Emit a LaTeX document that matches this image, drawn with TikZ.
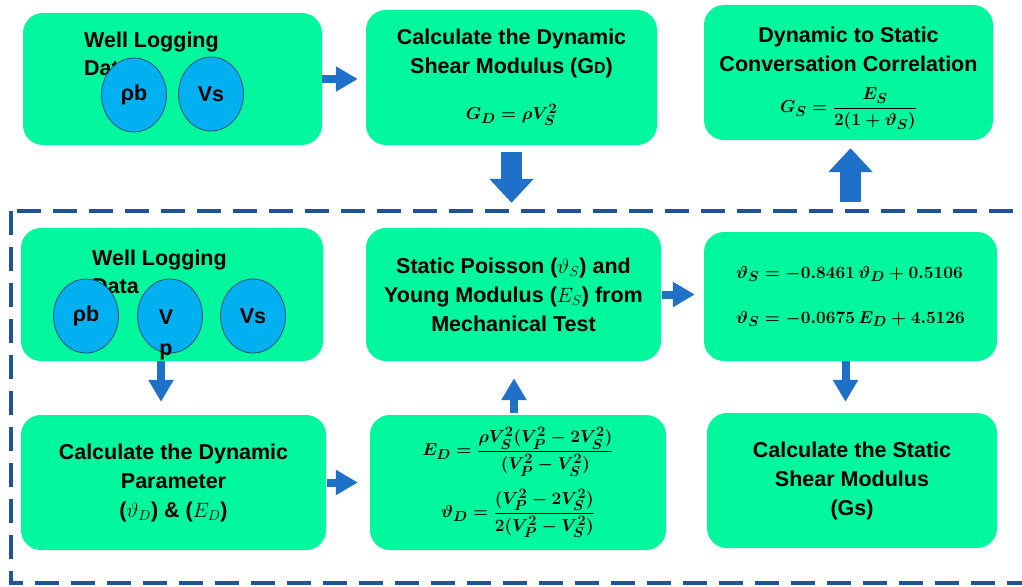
\documentclass[tikz,border=0pt]{standalone}
\usepackage{amsmath}
\usepackage[no-math]{fontspec}
\setmainfont{Liberation Sans}
\usepackage{xcolor}
\usepackage{tikz}
\usetikzlibrary{shapes.geometric}
\usetikzlibrary{arrows.meta}

\definecolor{boxgreen}{RGB}{0,247,158}
\definecolor{bubbleblue}{RGB}{0,176,240}
\definecolor{bubbleedge}{RGB}{31,78,121}
\definecolor{arrowblue}{RGB}{30,112,200}
\definecolor{dashblue}{RGB}{30,84,150}

% bold equation at the size of the boxes' formulas
\newcommand{\beq}[1]{{\fontsize{19}{23}\selectfont\boldmath$#1$}}

\begin{document}
\begin{tikzpicture}[x=1pt,y=-1pt,
  greenbox/.style={fill=boxgreen,rounded corners=20pt,align=center,inner sep=0pt,
    font=\fontsize{21.5}{29}\selectfont\bfseries},
  bubble/.style={ellipse,draw=bubbleedge,line width=0.8pt,fill=bubbleblue,
    minimum width=65pt,minimum height=74pt,inner sep=0pt,
    font=\fontsize{21.5}{29}\selectfont\bfseries},
  lbl/.style={inner sep=0pt,align=left,font=\fontsize{21.5}{28}\selectfont\bfseries},
  thinarrow/.style={line width=8pt,draw=arrowblue,-{Triangle[width=24pt,length=22pt]}},
  fatarrow/.style={line width=21pt,draw=arrowblue,-{Triangle[width=43pt,length=24pt]}},
  dashframe/.style={draw=dashblue,line width=3.5pt,dash pattern=on 24pt off 12pt}]
\clip (0,0) rectangle (1022,586);

% top row
\node[greenbox,minimum width=299pt,minimum height=132pt] (logA) at (172.5,79) {};
\node[greenbox,minimum width=291pt,minimum height=135pt] (shearD) at (511.5,77.5)
  {Calculate the Dynamic\\Shear Modulus (G{\fontsize{16}{16}\selectfont D})\\[17pt]
   \beq{G_D=\rho V_S^2}};
\node[greenbox,minimum width=289pt,minimum height=135pt] (convert) at (848.5,72.5) {};
\node[lbl,align=center,font=\fontsize{21.5}{29}\selectfont\bfseries,yshift=-6pt]
  (convertText) at (convert.center)
  {Dynamic to Static\\Conversation Correlation\\[12pt]
   \beq{G_S=\dfrac{E_S}{2(1+\vartheta_S)}}};

% lower part
\draw[dashframe] (11,211) rectangle (1040,583);
\node[greenbox,minimum width=302pt,minimum height=133pt] (logB) at (172,294.5) {};
\node[greenbox,minimum width=295pt,minimum height=133pt] (mech) at (513.5,294.5)
  {Static Poisson ($\vartheta_S$) and\\Young Modulus ($E_S$) from\\Mechanical Test};
\node[greenbox,minimum width=293pt,minimum height=129pt,align=left] (corr) at (850.5,296.5)
  {\beq{\vartheta_S=-0.8461\,\vartheta_D+0.5106}\\[16pt]
   \beq{\vartheta_S=-0.0675\,E_D+4.5126}};
\node[greenbox,minimum width=305pt,minimum height=135pt] (dynpar) at (173.5,482.5)
  {Calculate the Dynamic\\Parameter\\($\vartheta_D$) \& ($E_D$)};
\node[greenbox,minimum width=296pt,minimum height=135pt] (formulas) at (518,482.5)
  {\beq{E_D=\dfrac{\rho V_S^2(V_P^2-2V_S^2)}{(V_P^2-V_S^2)}}\\[12pt]
   \beq{\vartheta_D=\dfrac{(V_P^2-2V_S^2)}{2(V_P^2-V_S^2)}}};
\node[greenbox,minimum width=290pt,minimum height=135pt] (shearS) at (852,480.5)
  {Calculate the Static\\Shear Modulus\\(Gs)};

% well logging data
\node[lbl,anchor=north west] (dataA) at (84,32) {Well Logging\\Data};
\node[bubble] (rhoA) at (134,95) {ρb};
\node[bubble] (vsA) at (211,94) {Vs};
\node[lbl,anchor=north west] (dataB) at (92,250) {Well Logging\\Data};
\node[bubble] (rhoB) at (86,316) {ρb};
\node[bubble] (vpB) at (170,316) {};
\node[lbl,align=center,anchor=north,font=\fontsize{21.5}{31}\selectfont\bfseries]
  (vptext) at (166,310) {V\\p};
\node[bubble] (vsB) at (253,316) {Vs};

% arrows
\draw[thinarrow,shorten >=8pt] (logA.east) -- (logA.east -| shearD.west);
\draw[fatarrow,shorten <=7pt,shorten >=25pt] (shearD.south) -- (shearD.south |- mech.north);
\draw[fatarrow,shorten <=30pt,shorten >=8pt] (corr.north) -- (corr.north |- convert.south);
\draw[thinarrow,shorten >=13pt] ([xshift=-11pt]logB.south) -- ([xshift=-11pt]logB.south |- dynpar.north);
\draw[thinarrow,shorten <=1pt,shorten >=12pt] (dynpar.east) -- (dynpar.east -| formulas.west);
\draw[thinarrow,shorten <=2pt,shorten >=17pt] ([xshift=-4pt]formulas.north) -- ([xshift=-4pt]formulas.north |- mech.south);
\draw[thinarrow,shorten <=1pt,shorten >=9pt] (mech.east) -- (mech.east -| corr.west);
\draw[thinarrow,shorten >=11pt] ([xshift=-5pt]corr.south) -- ([xshift=-5pt]corr.south |- shearS.north);
\end{tikzpicture}
\end{document}
